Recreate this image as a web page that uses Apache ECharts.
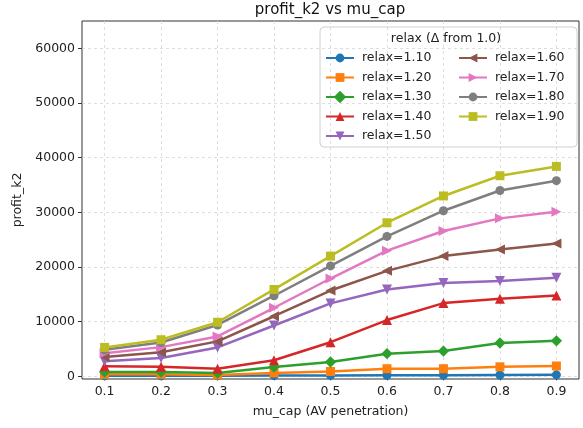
<!DOCTYPE html>
<html>
<head>
<meta charset="utf-8">
<script src="https://cdn.jsdelivr.net/npm/echarts@6/dist/echarts.min.js"></script>
<style>
  html, body { margin: 0; padding: 0; background: #fff; }
  #chart { width: 583px; height: 428px; }
</style>
</head>
<body>
<div id="chart"></div>
<script>
// mu_cap values (x)
const muCap = [0.1, 0.2, 0.3, 0.4, 0.5, 0.6, 0.7, 0.8, 0.9]
const xTicks = [0.1, 0.2, 0.3, 0.4, 0.5, 0.6, 0.7, 0.8, 0.9]
const yTicks = [0, 10000, 20000, 30000, 40000, 50000, 60000]

// profit_k2 per relax level
const relax110 = [100, 100, 100, 150, 180, 200, 220, 250, 280]
const relax120 = [370, 370, 250, 620, 900, 1400, 1400, 1750, 1900]
const relax130 = [800, 800, 620, 1700, 2630, 4150, 4630, 6100, 6500]
const relax140 = [1830, 1780, 1400, 2950, 6250, 10300, 13400, 14200, 14800]
const relax150 = [2750, 3350, 5300, 9300, 13350, 15900, 17100, 17450, 18050]
const relax160 = [3550, 4400, 6400, 11000, 15700, 19300, 22000, 23200, 24300]
const relax170 = [4250, 5350, 7300, 12550, 17900, 23000, 26600, 28900, 30100]
const relax180 = [4850, 6200, 9400, 14750, 20200, 25600, 30300, 34000, 35800]
const relax190 = [5300, 6700, 9900, 15900, 22000, 28100, 33000, 36700, 38400]

const seriesDefs = [
  { name: 'relax=1.10', data: relax110, color: '#1f77b4', symbol: 'circle', size: 9, rotate: 0 },
  { name: 'relax=1.20', data: relax120, color: '#ff7f0e', symbol: 'rect', size: 9, rotate: 0 },
  { name: 'relax=1.30', data: relax130, color: '#2ca02c', symbol: 'rect', size: 8, rotate: 45 },
  { name: 'relax=1.40', data: relax140, color: '#d62728', symbol: 'triangle', size: 10, rotate: 0 },
  { name: 'relax=1.50', data: relax150, color: '#9467bd', symbol: 'triangle', size: 10, rotate: 180 },
  { name: 'relax=1.60', data: relax160, color: '#8c564b', symbol: 'triangle', size: 10, rotate: 90 },
  { name: 'relax=1.70', data: relax170, color: '#e377c2', symbol: 'triangle', size: 10, rotate: -90 },
  { name: 'relax=1.80', data: relax180, color: '#7f7f7f', symbol: 'circle', size: 9, rotate: 0 },
  { name: 'relax=1.90', data: relax190, color: '#bcbd22', symbol: 'rect', size: 9, rotate: 0 },
]

const font = 'DejaVu Sans'
const gridLine = { show: true, lineStyle: { color: '#d6d6d6', type: [3, 3], width: 0.8 } }

const legendBase = {
  orient: 'vertical',
  itemWidth: 28,
  itemHeight: 11,
  itemGap: 5.5,
  textStyle: { fontFamily: font, fontSize: 12.5, color: '#222', lineHeight: 14, padding: [0, 0, 0, 3] },
}

const chart = echarts.init(document.getElementById('chart'), null, { renderer: 'canvas' })

chart.setOption({
  animation: false,
  backgroundColor: '#fff',
  textStyle: { fontFamily: font },
  grid: {
    left: 82, right: 4, top: 21, bottom: 49,
    show: true, borderColor: '#333', borderWidth: 1, backgroundColor: 'transparent',
  },
  xAxis: {
    type: 'value',
    min: 0.06,
    max: 0.94,
    name: 'mu_cap (AV penetration)',
    nameLocation: 'middle',
    nameGap: 26,
    nameTextStyle: { fontFamily: font, fontSize: 12.5, color: '#222' },
    axisLine: { show: false },
    axisTick: { show: true, customValues: xTicks, length: 4, lineStyle: { color: '#333' } },
    axisLabel: {
      customValues: xTicks,
      fontFamily: font, fontSize: 12.5, color: '#222', margin: 6,
      formatter: (v) => v.toFixed(1),
    },
    splitLine: gridLine,
  },
  yAxis: {
    type: 'value',
    min: -480,
    max: 65000,
    name: 'profit_k2',
    nameLocation: 'middle',
    nameGap: 58,
    nameTextStyle: { fontFamily: font, fontSize: 12.5, color: '#222' },
    axisLine: { show: false },
    axisTick: { show: true, customValues: yTicks, length: 4, lineStyle: { color: '#333' } },
    axisLabel: {
      customValues: yTicks,
      fontFamily: font, fontSize: 12.5, color: '#222', margin: 7,
      formatter: (v) => String(Math.round(v)),
    },
    splitLine: gridLine,
  },
  legend: [
    Object.assign({}, legendBase, { left: 320, top: 46, data: seriesDefs.slice(0, 5).map((d) => d.name) }),
    Object.assign({}, legendBase, { left: 453, top: 46, data: seriesDefs.slice(5).map((d) => d.name) }),
  ],
  graphic: [
    {
      type: 'text', z: 10,
      style: { x: 330, y: 3, text: 'profit_k2 vs mu_cap', fontFamily: font, fontSize: 15, fill: '#111', textAlign: 'center' },
    },
    {
      type: 'rect', z: -1, zlevel: 0,
      shape: { x: 320, y: 27, width: 257, height: 120, r: 4 },
      style: { fill: 'rgba(255,255,255,0.85)', stroke: '#d0d0d0', lineWidth: 1 },
    },
    {
      type: 'text', z: 10,
      style: { x: 446, y: 32, text: 'relax (\u0394 from 1.0)', fontFamily: font, fontSize: 12.5, fill: '#222', textAlign: 'center' },
    },
  ],
  series: seriesDefs.map((d) => ({
    name: d.name,
    type: 'line',
    data: d.data.map((v, i) => [muCap[i], v]),
    symbol: d.symbol,
    symbolSize: d.size,
    symbolRotate: d.rotate,
    showAllSymbol: true,
    itemStyle: { color: d.color },
    lineStyle: { width: 2.5, color: d.color },
  })),
})
</script>
</body>
</html>
